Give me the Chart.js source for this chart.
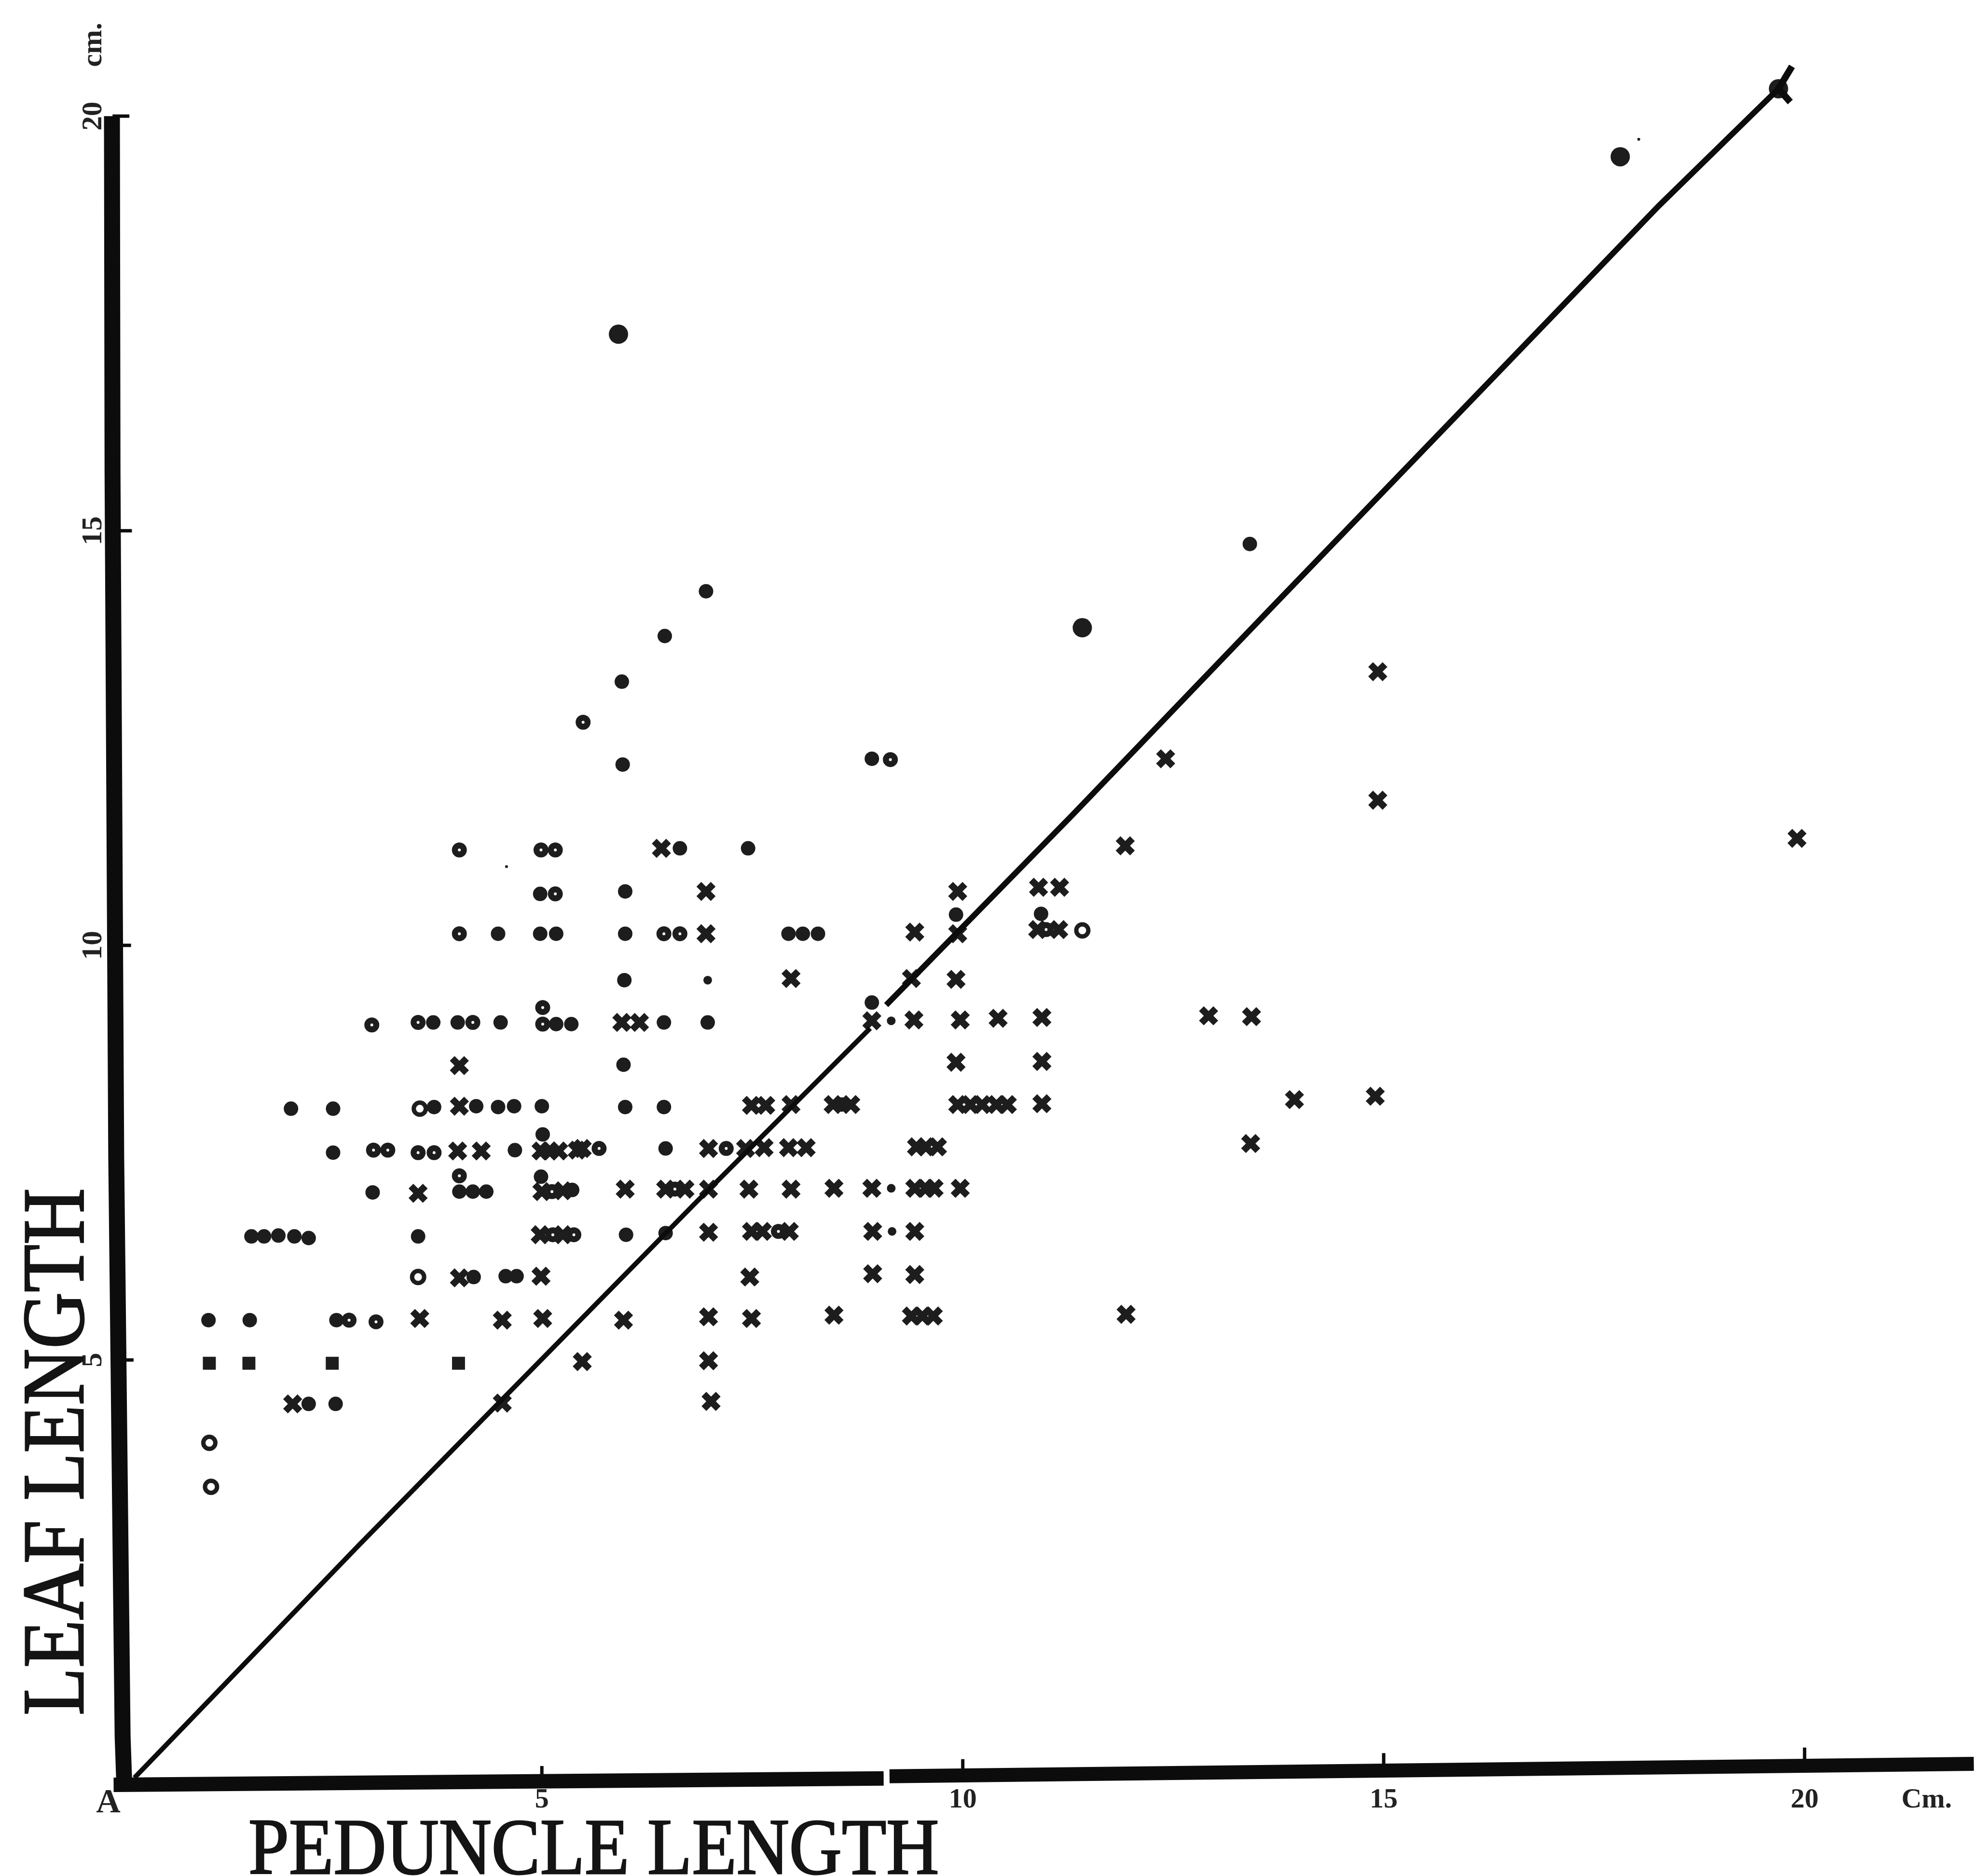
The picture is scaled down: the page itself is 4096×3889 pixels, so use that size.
<!DOCTYPE html>
<html>
<head>
<meta charset="utf-8">
<title>Leaf length and peduncle length</title>
<script src="https://cdn.jsdelivr.net/npm/chart.js@4"></script>
<style>
  html, body { margin: 0; padding: 0; background: #fff; }
  canvas { display: block; }
</style>
</head>
<body>
<canvas id="graph" width="4096" height="3889"></canvas>
<script>
// tick labels, "A" and "Cm." sit on the same axes as the numbers
const xTickValues = [-0.15, 5, 10, 15, 20, 21.45];
const xTickLabels = ['A', '5', '10', '15', '20', 'Cm.'];
const yTickValues = [5, 10, 15, 20, 20.86];
const yTickLabels = ['5', '10', '15', '20', 'cm.'];

// values in cm [peduncle, leaf]
const filledDots = [
  [6.64,11.17],[7.45,11.17],[4.98,10.62],[5.99,10.65],[9.92,10.37],[10.93,10.38],
  [4.48,10.14],[4.98,10.14],[5.17,10.14],[5.99,10.14],[7.93,10.14],[8.1,10.14],[8.28,10.14],
  [5.98,9.58],[3.71,9.07],[4.0,9.07],[4.51,9.07],[5.17,9.05],[5.35,9.05],[6.45,9.07],[6.97,9.07],[8.92,9.31],
  [5.97,8.56],[2.02,8.03],[2.52,8.03],[3.72,8.05],[4.22,8.06],[4.48,8.05],[4.67,8.06],[5.0,8.06],[5.99,8.05],[6.45,8.05],[8.56,8.08],
  [5.01,7.72],[2.52,7.5],[4.68,7.53],[6.47,7.55],
  [4.99,7.21],[2.99,7.02],[4.02,7.03],[4.18,7.03],[4.34,7.03],[5.36,7.05],
  [1.55,6.49],[1.7,6.49],[1.87,6.5],[2.06,6.49],[2.23,6.47],[3.53,6.49],[6.0,6.51],[6.47,6.53],
  [4.19,6.0],[4.57,6.01],[4.7,6.01],
  [1.04,5.48],[1.53,5.48],[2.56,5.48],
  [2.55,4.47],[2.23,4.47],[5.96,12.18],[8.92,12.25],[6.46,13.73],[5.95,13.18],[6.95,14.27],[13.41,14.84]
];
const bigDots = [[5.91,17.37],[17.81,19.51],[11.42,13.83],[19.69,20.33]];
const smallDots = [[9.15,9.09],[9.15,7.07],[9.16,6.55],[6.97,9.58]];
const specks = [[18.03,19.72],[4.58,10.95]];
const openDots = [
  [4.02,11.15],[4.99,11.15],[5.16,11.15],[5.16,10.62],[4.02,10.14],[6.45,10.14],[6.64,10.14],[10.99,10.19],
  [2.98,9.04],[3.53,9.07],[4.18,9.07],[5.01,9.05],[5.01,9.25],
  [3.0,7.53],[3.17,7.53],[3.53,7.5],[3.72,7.5],[5.68,7.55],[7.19,7.55],[4.02,7.22],
  [5.12,7.03],[6.58,7.06],[5.13,6.51],[5.38,6.51],[7.81,6.55],[2.71,5.48],[3.03,5.46],
  [5.49,12.69],[9.14,12.24]
];
const wideOpenDots = [[1.05,4.0],[1.07,3.47],[3.55,8.03],[3.53,6.0],[11.42,10.18]];
const crossMarks = [
  [6.42,11.17],[6.95,10.65],[9.94,10.65],[10.9,10.7],[11.15,10.7],
  [6.95,10.14],[9.43,10.16],[9.94,10.14],[10.89,10.19],[11.14,10.19],
  [7.96,9.6],[9.39,9.6],[9.92,9.59],
  [5.95,9.07],[6.16,9.07],[8.92,9.09],[9.42,9.1],[9.97,9.1],[10.42,9.12],[10.94,9.13],
  [4.02,8.55],[9.92,8.59],[10.94,8.6],
  [4.02,8.06],[7.49,8.07],[7.66,8.07],[7.96,8.08],[8.46,8.08],[8.67,8.08],
  [9.94,8.08],[10.09,8.08],[10.23,8.08],[10.4,8.08],[10.53,8.08],[10.94,8.09],
  [4.0,7.52],[4.28,7.52],[4.99,7.52],[5.09,7.52],[5.2,7.52],[5.42,7.53],[5.48,7.55],
  [6.98,7.55],[7.42,7.55],[7.64,7.56],[7.93,7.56],[8.14,7.56],[9.45,7.57],[9.56,7.57],[9.7,7.57],
  [3.53,7.01],[5.0,7.03],[5.25,7.04],[5.99,7.06],[6.47,7.06],[6.7,7.06],[6.98,7.06],
  [7.46,7.06],[7.96,7.06],[8.47,7.07],[8.92,7.07],[9.43,7.07],[9.56,7.07],[9.66,7.07],[9.97,7.07],
  [4.98,6.51],[5.25,6.51],[6.98,6.54],[7.49,6.55],[7.62,6.55],[7.94,6.55],[8.93,6.55],[9.43,6.55],
  [4.02,5.99],[4.99,6.01],[7.47,6.0],[8.93,6.04],[9.43,6.03],
  [3.55,5.5],[4.53,5.48],[5.01,5.5],[5.97,5.48],[6.98,5.52],[7.49,5.5],[8.47,5.54],
  [9.39,5.53],[9.52,5.53],[9.65,5.53],[11.94,5.55],
  [5.48,4.98],[6.98,4.99],[4.53,4.48],[7.01,4.5],[2.04,4.47],
  [14.93,13.3],[12.41,12.25],[14.93,11.75],[11.93,11.2],[19.91,11.29],
  [12.92,9.15],[13.43,9.14],[13.94,8.14],[14.9,8.18],[13.42,7.61]
];
const squareMarks = [[1.05,4.96],[1.52,4.96],[2.51,4.96],[4.01,4.96]];

// drawn lines, broken where the plate breaks them
const diagonalLower = [[0.16,-0.04],[2.84,2.78],[6.85,6.92],[8.9,9.0]];
const diagonalUpper = [[9.09,9.28],[11.31,11.58],[13.75,14.16],[18.27,18.92],[19.69,20.33]];
const diagonalEnd = [[19.85,20.6],[19.69,20.33],[19.83,20.17]];
// runs from the foot up: x falls, so the line is not culled left of the plot box
const yAxisLine = [[0.04,-0.124],[0.02,0.455],[-0.056,7.44],[-0.1,15.71],[-0.107,20.0]];
const xAxisLeft = [[-0.087,-0.124],[9.06,-0.047]];
const xAxisRight = [[9.13,-0.021],[22.01,0.129]];
const xTickMarks = [[5,-0.06,0.103],[10,0,0.186],[15,0.05,0.259],[20,0.1,0.326]];
const yTickMarks = [[20,-0.1,0.1],[15,-0.1,0.13],[10,-0.08,0.12],[5,-0.04,0.15]];

// where the plate's zero and centimetre fall in the window
const xZero = 250.7, xPerCm = 174.5;
const yZero = 3678.7, yPerCm = 171.9;

const toPoints = list => list.map(p => ({x: p[0], y: p[1]}));
const ink = '#1d1d1d';

function marks(list, style, radius, border) {
  return {
    data: toPoints(list), showLine: false, clip: false,
    pointStyle: style, pointRadius: radius, pointBorderWidth: border,
    pointBackgroundColor: style === 'circle' && border > 0 ? '#fff' : ink,
    pointBorderColor: ink
  };
}
function stroke(points, width) {
  return {
    data: points, showLine: true, clip: false, spanGaps: false,
    pointRadius: 0, borderColor: '#0c0c0c', borderWidth: width, tension: 0
  };
}

const tickSegments = [];
xTickMarks.forEach(t => tickSegments.push({x: t[0], y: t[1]}, {x: t[0], y: t[2]}, {x: t[0], y: NaN}));
yTickMarks.forEach(t => tickSegments.push({x: t[1], y: t[0]}, {x: t[2], y: t[0]}, {x: NaN, y: t[0]}));

// the two hand-set axis names, squeezed to the width they have on the plate
const axisNames = {
  id: 'axisNames',
  afterDraw(chart) {
    const ctx = chart.ctx;
    ctx.save();
    ctx.fillStyle = ctx.strokeStyle = '#141414';
    ctx.lineWidth = 3;
    ctx.textAlign = 'left';
    ctx.textBaseline = 'alphabetic';
    ctx.font = '165px "Liberation Serif"';
    ctx.save();
    ctx.translate(515, 3884);
    ctx.scale(0.916, 1);
    ctx.fillText('PEDUNCLE LENGTH', 0, 0);
    ctx.strokeText('PEDUNCLE LENGTH', 0, 0);
    ctx.restore();
    ctx.font = '183px "Liberation Serif"';
    ctx.translate(172, 3556);
    ctx.rotate(-Math.PI / 2);
    ctx.scale(0.885, 1);
    ctx.fillText('LEAF LENGTH', 0, 0);
    ctx.strokeText('LEAF LENGTH', 0, 0);
    ctx.restore();
  }
};

const chart = new Chart(document.getElementById('graph').getContext('2d'), {
  type: 'scatter',
  data: {
    datasets: [
      stroke(toPoints(yAxisLine), 33),
      stroke(toPoints(xAxisLeft), 30),
      stroke(toPoints(xAxisRight), 29),
      stroke(tickSegments, 7),
      stroke(toPoints(diagonalLower), 10),
      stroke(toPoints(diagonalUpper), 12),
      stroke(toPoints(diagonalEnd), 14),
      marks(filledDots, 'circle', 15, 0),
      marks(bigDots, 'circle', 20, 0),
      marks(smallDots, 'circle', 9, 0),
      marks(specks, 'circle', 3, 0),
      marks(openDots, 'circle', 9.25, 12.5),
      marks(wideOpenDots, 'circle', 12.5, 9),
      marks(crossMarks, 'crossRot', 21, 14),
      marks(squareMarks, 'rect', 19, 0)
    ]
  },
  options: {
    responsive: false,
    animation: false,
    layout: {padding: 0},
    plugins: {legend: {display: false}, tooltip: {enabled: false}},
    scales: {
      x: {
        type: 'linear',
        min: -0.06,
        max: 22,
        grid: {display: false, drawTicks: false},
        border: {display: false},
        afterBuildTicks: scale => { scale.ticks = xTickValues.map(v => ({value: v})); },
        afterFit: scale => { scale.height = 199; },
        ticks: {
          autoSkip: false, minRotation: 0, maxRotation: 0, padding: 7,
          color: '#222',
          font: ctx => ({family: '"Liberation Serif"', weight: 'bold', size: ctx.index === 0 ? 70 : 58}),
          callback: (v, i) => xTickLabels[i]
        }
      },
      y: {
        type: 'linear',
        min: -0.07,
        max: 21.4,
        grid: {display: false, drawTicks: false},
        border: {display: false},
        afterBuildTicks: scale => { scale.ticks = yTickValues.map(v => ({value: v})); },
        afterFit: scale => { scale.width = 240; },
        ticks: {
          autoSkip: false, minRotation: 90, maxRotation: 90, crossAlign: 'center', padding: 0,
          color: '#222',
          font: {family: '"Liberation Serif"', weight: 'bold', size: 60},
          callback: (v, i) => yTickLabels[i]
        }
      }
    }
  },
  plugins: [axisNames]
});

// the layout keeps some room for the end labels, so set the ranges from the box it gave
const area = chart.chartArea;
chart.options.scales.x.min = (area.left - xZero) / xPerCm;
chart.options.scales.x.max = (area.right - xZero) / xPerCm;
chart.options.scales.y.min = (yZero - area.bottom) / yPerCm;
chart.options.scales.y.max = (yZero - area.top) / yPerCm;
chart.update();
</script>
</body>
</html>
